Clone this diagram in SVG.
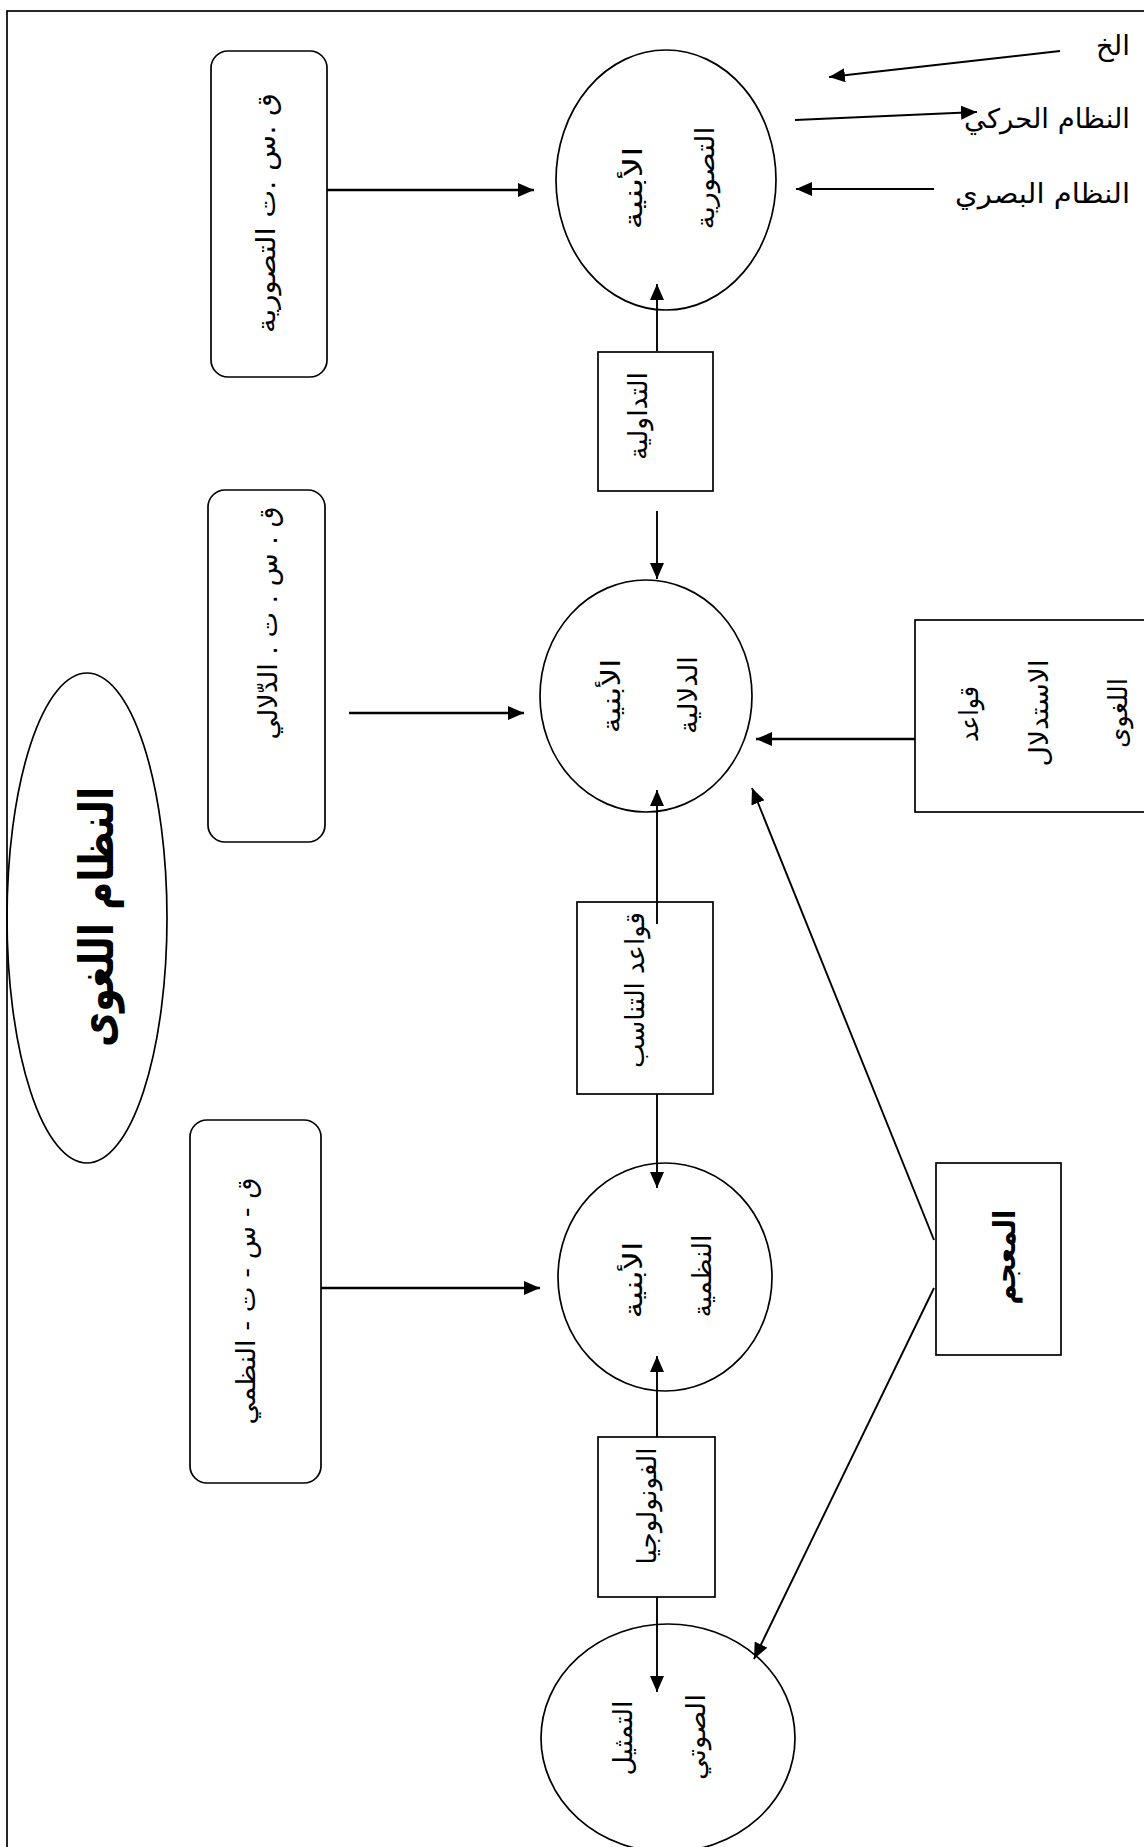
<svg xmlns="http://www.w3.org/2000/svg" width="1144" height="1847" viewBox="0 0 1144 1847">
<style>
.s{fill:none;stroke:#000;stroke-width:1.7}
.c{fill:none;stroke:#000;stroke-width:1.9}
.ct{fill:none;stroke:#000;stroke-width:2.7}
.t{font-family:"DejaVu Sans",sans-serif;font-size:26px;fill:#000;text-anchor:middle}
.b{font-weight:bold}
.h{font-family:"DejaVu Sans",sans-serif;font-size:27px;fill:#000;text-anchor:end}
</style>
<defs>
<marker id="ah" viewBox="0 0 16 14" refX="16" refY="7" markerWidth="16" markerHeight="14" markerUnits="userSpaceOnUse" orient="auto"><path d="M0,0 L16,7 L0,14 z" fill="#000"/></marker>
</defs>
<rect x="0" y="0" width="1144" height="1847" fill="#fff"/>
<rect x="7" y="11" width="1300" height="1950" class="s"/>

<g id="title">
<ellipse cx="87" cy="918" rx="80" ry="245" class="s"/>
<text class="t b" style="font-size:47px" textLength="260" lengthAdjust="spacingAndGlyphs" transform="translate(113,917) rotate(-90)">النظام اللغوى</text>
</g>

<g id="labels">
<text class="h" x="1130" y="55" textLength="34" lengthAdjust="spacingAndGlyphs">الخ</text>
<text class="h" x="1130" y="128" textLength="166" lengthAdjust="spacingAndGlyphs">النظام الحركي</text>
<text class="h" x="1130" y="203" textLength="175" lengthAdjust="spacingAndGlyphs">النظام البصري</text>
</g>

<g id="rr1">
<rect x="211" y="51" width="116" height="326" rx="17" class="s"/>
<text class="t" textLength="240" lengthAdjust="spacingAndGlyphs" transform="translate(275,213) rotate(-90)">ق .س .ت التصورية</text>
</g>
<g id="rr2">
<rect x="208" y="490" width="117" height="352" rx="17" class="s"/>
<text class="t" textLength="233" lengthAdjust="spacingAndGlyphs" transform="translate(277,623) rotate(-90)">ق . س . ت . الدّلالي</text>
</g>
<g id="rr3">
<rect x="190" y="1120" width="131" height="363" rx="17" class="s"/>
<text class="t" textLength="247" lengthAdjust="spacingAndGlyphs" transform="translate(255,1301) rotate(-90)">ق - س - ت - النظمي</text>
</g>

<g id="e1">
<ellipse cx="666" cy="180" rx="110" ry="130" class="s"/>
<text class="t" textLength="83" lengthAdjust="spacingAndGlyphs" transform="translate(642,188) rotate(-90)">الأبنية</text>
<text class="t" textLength="103" lengthAdjust="spacingAndGlyphs" transform="translate(714,178) rotate(-90)">التصورية</text>
</g>
<g id="e2">
<ellipse cx="646" cy="696" rx="106" ry="116" class="s"/>
<text class="t" textLength="75" lengthAdjust="spacingAndGlyphs" transform="translate(620,696) rotate(-90)">الأبنية</text>
<text class="t" textLength="78" lengthAdjust="spacingAndGlyphs" transform="translate(697,695) rotate(-90)">الدلالية</text>
</g>
<g id="e3">
<ellipse cx="665" cy="1277" rx="107" ry="114" class="s"/>
<text class="t" textLength="77" lengthAdjust="spacingAndGlyphs" transform="translate(642,1280) rotate(-90)">الأبنية</text>
<text class="t" textLength="83" lengthAdjust="spacingAndGlyphs" transform="translate(711,1276) rotate(-90)">النظمية</text>
</g>
<g id="e4">
<ellipse cx="668" cy="1738" rx="127" ry="114" class="s"/>
<text class="t" textLength="75" lengthAdjust="spacingAndGlyphs" transform="translate(632,1738) rotate(-90)">التمثيل</text>
<text class="t" textLength="86" lengthAdjust="spacingAndGlyphs" transform="translate(705,1737) rotate(-90)">الصوتي</text>
</g>

<g id="r1">
<rect x="598" y="352" width="115" height="139" class="s"/>
<text class="t" textLength="88" lengthAdjust="spacingAndGlyphs" transform="translate(647,416) rotate(-90)">التداولية</text>
</g>
<g id="r2">
<rect x="577" y="902" width="136" height="192" class="s"/>
<text class="t" textLength="156" lengthAdjust="spacingAndGlyphs" transform="translate(644,990) rotate(-90)">قواعد التناسب</text>
</g>
<g id="r3">
<rect x="598" y="1437" width="117" height="160" class="s"/>
<text class="t" textLength="117" lengthAdjust="spacingAndGlyphs" transform="translate(656,1506) rotate(-90)">الفونولوجيا</text>
</g>
<g id="r4">
<rect x="915" y="620" width="260" height="192" class="s"/>
<text class="t" textLength="56" lengthAdjust="spacingAndGlyphs" transform="translate(978,714) rotate(-90)">قواعد</text>
<text class="t" textLength="107" lengthAdjust="spacingAndGlyphs" transform="translate(1048,713) rotate(-90)">الاستدلال</text>
<text class="t" textLength="70" lengthAdjust="spacingAndGlyphs" transform="translate(1127,713) rotate(-90)">اللغوى</text>
</g>
<g id="r5">
<rect x="936" y="1163" width="125" height="192" class="s"/>
<text class="t b" style="font-size:30px" textLength="95" lengthAdjust="spacingAndGlyphs" transform="translate(1015,1257) rotate(-90)">المعجم</text>
</g>

<g id="connectors">
<line x1="1060" y1="51" x2="829" y2="77" class="c" marker-end="url(#ah)"/>
<line x1="795" y1="120" x2="977" y2="112" class="c" marker-end="url(#ah)"/>
<line x1="934" y1="189" x2="796" y2="189" class="c" marker-end="url(#ah)"/>
<line x1="327" y1="190" x2="534" y2="190" class="ct" marker-end="url(#ah)"/>
<line x1="657" y1="351" x2="657" y2="284" class="c" marker-end="url(#ah)"/>
<line x1="657" y1="511" x2="657" y2="579" class="c" marker-end="url(#ah)"/>
<line x1="349" y1="713" x2="524" y2="713" class="ct" marker-end="url(#ah)"/>
<line x1="915" y1="739" x2="756" y2="739" class="ct" marker-end="url(#ah)"/>
<line x1="657" y1="924" x2="657" y2="790" class="c" marker-end="url(#ah)"/>
<line x1="657" y1="1094" x2="657" y2="1188" class="c" marker-end="url(#ah)"/>
<line x1="321" y1="1288" x2="540" y2="1288" class="ct" marker-end="url(#ah)"/>
<line x1="657" y1="1437" x2="657" y2="1356" class="c" marker-end="url(#ah)"/>
<line x1="657" y1="1597" x2="657" y2="1692" class="c" marker-end="url(#ah)"/>
<line x1="934" y1="1240" x2="752" y2="788" class="c" marker-end="url(#ah)"/>
<line x1="934" y1="1288" x2="754" y2="1659" class="c" marker-end="url(#ah)"/>
</g>
</svg>
